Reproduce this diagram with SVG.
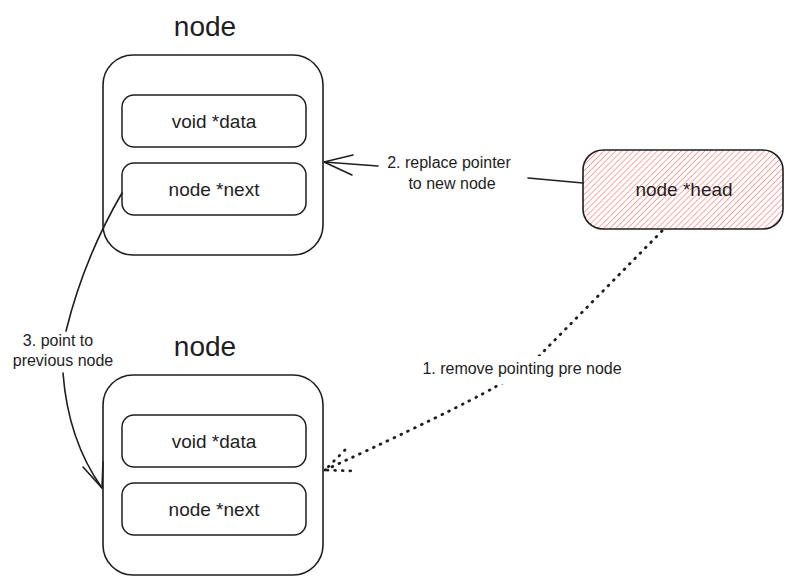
<svg xmlns="http://www.w3.org/2000/svg" width="793" height="585" viewBox="0 0 793 585">
  <defs>
    <style>
      .box { fill: none; stroke: #1e1e1e; stroke-width: 1.6; }
      .inner { fill: none; stroke: #1e1e1e; stroke-width: 1.5; }
      .title { font-family: "Liberation Sans", Arial, sans-serif; font-size: 28px; fill: #1e1e1e; text-anchor: middle; }
      .field { font-family: "Liberation Sans", Arial, sans-serif; font-size: 19px; fill: #1e1e1e; text-anchor: middle; }
      .lbl { font-family: "Liberation Sans", Arial, sans-serif; font-size: 16px; fill: #1e1e1e; text-anchor: middle; }
      .conn { fill: none; stroke: #1e1e1e; stroke-width: 1.6; stroke-linecap: round; stroke-linejoin: round; }
      .dotted { fill: none; stroke: #1e1e1e; stroke-width: 2.8; stroke-linecap: round; stroke-dasharray: 0.8 6.8; }
    </style>
    <pattern id="hatch" width="4.2" height="4.2" patternUnits="userSpaceOnUse" patternTransform="rotate(45)">
      <line x1="0" y1="0" x2="0" y2="4.2" stroke="#ff6b6b" stroke-width="1.2"/>
    </pattern>
    <mask id="gap1" maskUnits="userSpaceOnUse" x="0" y="0" width="793" height="585">
      <rect x="0" y="0" width="793" height="585" fill="#fff"/>
      <rect x="416" y="356" width="214" height="28" fill="#000"/>
    </mask>
  </defs>

  <g id="node1">
    <text class="title" x="205" y="36">node</text>
    <rect class="box" x="103" y="55" width="220" height="200" rx="30"/>
    <g id="node1-data">
      <rect class="inner" x="122" y="95" width="184" height="52" rx="12"/>
      <text class="field" x="214" y="128">void *data</text>
    </g>
    <g id="node1-next">
      <rect class="inner" x="122" y="163" width="184" height="52" rx="12"/>
      <text class="field" x="214" y="196">node *next</text>
    </g>
  </g>

  <g id="node2">
    <text class="title" x="205" y="356">node</text>
    <rect class="box" x="103" y="375" width="220" height="200" rx="30"/>
    <g id="node2-data">
      <rect class="inner" x="122" y="415" width="184" height="52" rx="12"/>
      <text class="field" x="214" y="448">void *data</text>
    </g>
    <g id="node2-next">
      <rect class="inner" x="122" y="483" width="184" height="52" rx="12"/>
      <text class="field" x="214" y="516">node *next</text>
    </g>
  </g>

  <g id="head">
    <rect x="583" y="150" width="200" height="79" rx="20" fill="url(#hatch)" stroke="#1e1e1e" stroke-width="1.6"/>
    <text class="field" x="684" y="196" font-size="20">node *head</text>
  </g>

  <g id="connectors">
    <g id="arrow-replace">
      <path class="conn" d="M583,183 L528,178"/>
      <path class="conn" d="M378,166 L324,162"/>
      <path class="conn" d="M353,155 L324,162 L352,175"/>
      <text class="lbl" x="449" y="168">2. replace pointer</text>
      <text class="lbl" x="452" y="189">to new node</text>
    </g>
    <g id="arrow-previous">
      <path class="conn" d="M122,193 Q84,258 66,331"/>
      <path class="conn" d="M63,373 Q68,440 102,488"/>
      <path class="conn" d="M83,467 L102,488 L103,462"/>
      <text class="lbl" x="58" y="346">3. point to</text>
      <text class="lbl" x="63" y="366">previous node</text>
    </g>
    <g id="arrow-remove">
      <path class="dotted" mask="url(#gap1)" d="M662,231 L545,350 Q525,372 495,387 Q455,410 325,470"/>
      <path class="dotted" d="M345,450 L325,470 L356,471"/>
      <text class="lbl" x="522" y="374">1. remove pointing pre node</text>
    </g>
  </g>
</svg>
